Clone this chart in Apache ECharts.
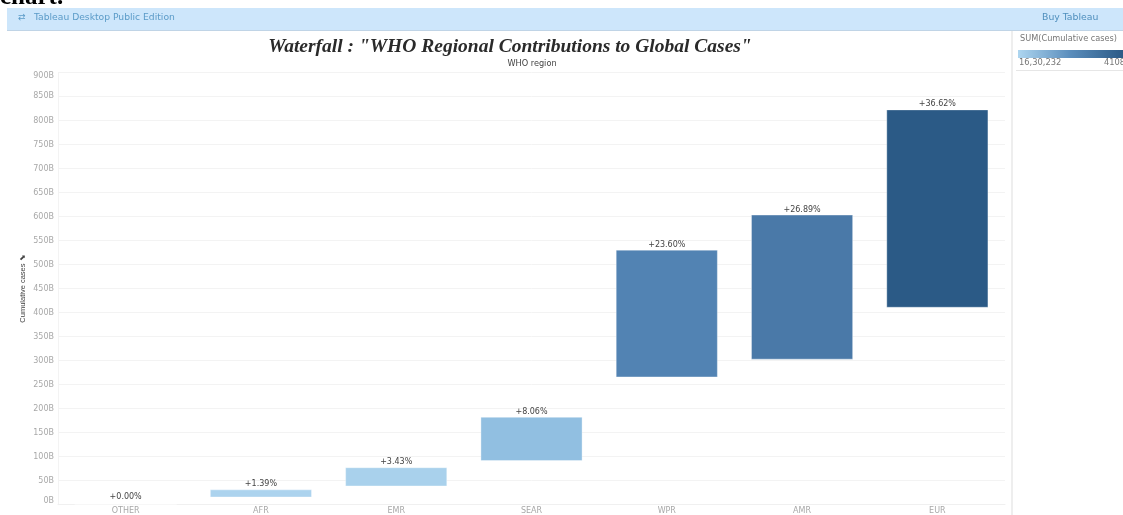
<!DOCTYPE html>
<html>
<head>
<meta charset="utf-8">
<style>html,body{margin:0;padding:0;background:#fff;overflow:hidden}#c{width:1123px;height:515px}</style>
<script src="https://cdn.jsdelivr.net/npm/echarts@6/dist/echarts.min.js"></script>
</head>
<body>
<div id="c"></div>
<script>
const categories = ['OTHER','AFR','EMR','SEAR','WPR','AMR','EUR'];
const barStart = [0, 15, 38, 91, 265, 302, 410];
const barEnd = [0, 32, 78, 183, 531, 604, 823];
const percentLabels = ['+0.00%','+1.39%','+3.43%','+8.06%','+23.60%','+26.89%','+36.62%'];
const barColors = ['#acd3ee','#acd3ee','#a9d1ec','#91bfe1','#5283b3','#4a79a8','#2b5a86'];
const yTicks = {min:0,max:900,interval:50};

const chart = echarts.init(document.getElementById('c'),null,{renderer:'canvas'});
const uiFont = '"DejaVu Sans", sans-serif';
chart.setOption({
  animation:false,
  backgroundColor:'#fff',
  grid:{left:58,right:118,top:72.4,bottom:10.3,containLabel:false},
  xAxis:{
    type:'category',data:categories,
    axisLine:{show:true,lineStyle:{color:'#f0f0f0'}},axisTick:{show:false},
    splitLine:{show:false},
    axisLabel:{color:'#a8a8a8',fontSize:8,fontFamily:uiFont,margin:2,interval:0}
  },
  yAxis:{
    type:'value',min:yTicks.min,max:yTicks.max,interval:yTicks.interval,
    name:'Cumulative cases \u2b0a',nameLocation:'middle',nameGap:31,nameMoveOverlap:false,
    nameTextStyle:{color:'#444',fontSize:7.5,fontFamily:'"Liberation Sans Narrow","Liberation Sans",sans-serif'},
    axisLine:{show:true,lineStyle:{color:'#f3f3f3'}},axisTick:{show:false},
    splitLine:{show:true,lineStyle:{color:'#f3f3f3',width:1}},
    axisLabel:{color:'#a8a8a8',fontSize:8,fontFamily:uiFont,margin:4,
      formatter:v=>v+'B',verticalAlignMinLabel:'bottom',verticalAlignMaxLabel:'top'}
  },
  series:[
    {type:'bar',stack:'w',silent:true,barWidth:'75.5%',
     itemStyle:{color:'rgba(0,0,0,0)'},data:barStart},
    {type:'bar',stack:'w',barWidth:'75.5%',
     data:barEnd.map((v,i)=>({value:v-barStart[i],
       itemStyle:{color:barColors[i],borderColor:'rgba(255,255,255,0.35)',borderWidth:1},
       label:{show:true,position:'top',distance:i===0?3:1,formatter:percentLabels[i],
              color:'#444',fontSize:8,fontFamily:uiFont}}))}
  ],
  graphic:[
    {type:'rect',shape:{x:7,y:8,width:1116,height:22},style:{fill:'#cde6fb'},silent:true},
    {type:'rect',shape:{x:7,y:30,width:1116,height:1},style:{fill:'#c0d4e6'},silent:true},
    {type:'text',x:0,y:-15,style:{text:'chart.',fill:'#000',font:'bold 25px "Liberation Serif", serif'}},
    {type:'text',x:18,y:13,style:{text:'\u21c4',fill:'#5b9bc8',font:'9px "DejaVu Sans", sans-serif'}},
    {type:'text',x:34,y:13,style:{text:'Tableau Desktop Public Edition',fill:'#5b9bc8',font:'9.2px '+uiFont}},
    {type:'text',x:1042,y:13,style:{text:'Buy Tableau',fill:'#4f8fbd',font:'9.3px '+uiFont}},
    {type:'text',x:510,y:37,style:{text:'Waterfall : "WHO Regional Contributions to Global Cases"',fill:'#2a2a2a',
      font:'italic bold 19.5px "Liberation Serif", serif',align:'center'}},
    {type:'text',x:532,y:60,style:{text:'WHO region',fill:'#444',font:'8.2px '+uiFont,align:'center'}},
    {type:'rect',shape:{x:1011,y:31,width:2,height:484},style:{fill:'#eeeeee'},silent:true},
    {type:'rect',shape:{x:1016,y:70,width:107,height:1},style:{fill:'#e6e6e6'},silent:true},
    {type:'text',x:1020,y:35,style:{text:'SUM(Cumulative cases)',fill:'#777',font:'8.2px '+uiFont}},
    {type:'rect',shape:{x:1018,y:50,width:105,height:8},style:{fill:new echarts.graphic.LinearGradient(0,0,1,0,[
      {offset:0,color:'#aed6f0'},{offset:0.5,color:'#5a8dbc'},{offset:1,color:'#2b5a86'}])},silent:true},
    {type:'text',x:1019,y:59,style:{text:'16,30,232',fill:'#777',font:'8.3px '+uiFont}},
    {type:'text',x:1104,y:59,style:{text:'4108',fill:'#777',font:'8.3px '+uiFont}}
  ]
});
</script>
</body>
</html>
